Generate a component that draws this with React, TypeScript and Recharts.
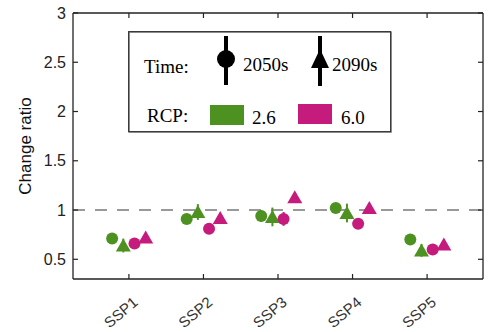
import { ScatterChart, Scatter, XAxis, YAxis, ReferenceLine, ErrorBar, Legend } from "recharts";

const categories = ["SSP1", "SSP2", "SSP3", "SSP4", "SSP5"];
const yTicks = [0.5, 1, 1.5, 2, 2.5, 3];

// RCP 2.6 (green) and RCP 6.0 (magenta), 2050s circles / 2090s triangles
const rcp26_2050 = [0.71, 0.91, 0.94, 1.02, 0.7];
const rcp26_2090 = [0.64, 0.98, 0.93, 0.97, 0.59];
const rcp60_2050 = [0.66, 0.81, 0.91, 0.86, 0.6];
const rcp60_2090 = [0.72, 0.92, 1.13, 1.02, 0.65];

const rcp26_2050Err = [0, 0.04, 0.06, 0.04, 0];
const rcp26_2090Err = [0.07, 0.08, 0.095, 0.095, 0.065];
const rcp60_2050Err = [0, 0, 0.07, 0, 0];
const rcp60_2090Err = [0, 0, 0, 0, 0];

const GREEN = "#4d9221";
const MAGENTA = "#c51b7d";
const AXIS = "#222";
const sans = "'Liberation Sans', Arial, sans-serif";
const serif = "'Liberation Serif', 'Times New Roman', serif";

const toPoints = (vals: number[], errs: number[], offset: number) =>
  vals.map((v, i) => ({ x: i + 1 + offset, y: v, err: errs[i] }));

const g50 = toPoints(rcp26_2050, rcp26_2050Err, -0.225);
const g90 = toPoints(rcp26_2090, rcp26_2090Err, -0.075);
const m50 = toPoints(rcp60_2050, rcp60_2050Err, 0.075);
const m90 = toPoints(rcp60_2090, rcp60_2090Err, 0.225);

const Dot = (color: string) => (p: any) => <circle cx={p.cx} cy={p.cy} r={6} fill={color} />;
const Tri = (color: string) => (p: any) => (
  <polygon points={`${p.cx - 7.5},${p.cy + 6} ${p.cx + 7.5},${p.cy + 6} ${p.cx},${p.cy - 7}`} fill={color} />
);

const LeftTick = (p: any) => (
  <g>
    <line x1={p.x} x2={p.x + 5} y1={p.y} y2={p.y} stroke={AXIS} strokeWidth={1.2} />
    <text x={p.x - 7} y={p.y} dy={5.5} textAnchor="end" fontSize={16} fill={AXIS} style={{ fontFamily: sans }}>
      {p.payload.value}
    </text>
  </g>
);
const RightTick = (p: any) => <line x1={p.x - 5} x2={p.x} y1={p.y} y2={p.y} stroke={AXIS} strokeWidth={1.2} />;
const TopTick = (p: any) => <line x1={p.x} x2={p.x} y1={p.y} y2={p.y + 5} stroke={AXIS} strokeWidth={1.2} />;
const BottomTick = (p: any) => (
  <g>
    <line x1={p.x} x2={p.x} y1={p.y} y2={p.y - 5} stroke={AXIS} strokeWidth={1.2} />
    <text
      x={0}
      y={0}
      transform={`translate(${p.x + 10},${p.y + 25}) rotate(-40)`}
      textAnchor="end"
      fontSize={15}
      fill="#333"
      style={{ fontFamily: sans }}
    >
      {categories[p.payload.value - 1]}
    </text>
  </g>
);

const YLabel = (p: any) => {
  const vb = p.viewBox;
  const cx = vb.x + 31;
  const cy = vb.y + vb.height / 2;
  return (
    <text x={cx} y={cy} transform={`rotate(-90,${cx},${cy})`} textAnchor="middle" fontSize={17} fill="#111" style={{ fontFamily: sans }}>
      Change ratio
    </text>
  );
};

const LegendBox = () => (
  <svg width={265} height={103} style={{ display: "block", fontFamily: serif }}>
    <rect x={1.5} y={1.5} width={262} height={100} fill="#fff" stroke="#bbb" strokeWidth={1} />
    <rect x={0.7} y={0.7} width={262} height={100} fill="none" stroke="#333" strokeWidth={1.3} />
    <text x={16} y={42} fontSize={19} fill="#000">Time:</text>
    <line x1={98} x2={98} y1={5} y2={54} stroke="#000" strokeWidth={4} />
    <circle cx={98} cy={28} r={9} fill="#000" />
    <text x={115} y={40} fontSize={19} fill="#000">2050s</text>
    <line x1={192} x2={192} y1={5} y2={55} stroke="#000" strokeWidth={4} />
    <polygon points="183,37 201,37 192,18" fill="#000" />
    <text x={204} y={40} fontSize={19} fill="#000">2090s</text>
    <text x={19} y={91} fontSize={19} fill="#000">RCP:</text>
    <rect x={82} y={74} width={34} height={20} fill={GREEN} />
    <text x={124} y={93} fontSize={19} fill="#000">2.6</text>
    <rect x={170} y={73} width={34} height={20} fill={MAGENTA} />
    <text x={213} y={93} fontSize={19} fill="#000">6.0</text>
  </svg>
);

export default function App() {
  return (
    <div style={{ position: "absolute", left: 0, top: 0, background: "#fff" }}>
      <ScatterChart width={491} height={332} margin={{ top: 0, right: 0, bottom: 0, left: 0 }}>
        <XAxis
          type="number"
          dataKey="x"
          domain={[0.25, 5.75]}
          ticks={[1, 2, 3, 4, 5]}
          allowDataOverflow
          height={53}
          tickSize={0}
          tickMargin={0}
          tickLine={false}
          axisLine={{ stroke: AXIS, strokeWidth: 1.3 }}
          tick={BottomTick}
        />
        <XAxis
          xAxisId="top"
          orientation="top"
          type="number"
          dataKey="x"
          domain={[0.25, 5.75]}
          ticks={[1, 2, 3, 4, 5]}
          allowDataOverflow
          height={13}
          tickSize={0}
          tickMargin={0}
          tickLine={false}
          axisLine={{ stroke: AXIS, strokeWidth: 1.3 }}
          tick={TopTick}
        />
        <YAxis
          type="number"
          dataKey="y"
          domain={[0.3, 3]}
          ticks={yTicks}
          allowDataOverflow
          width={73}
          tickSize={0}
          tickMargin={0}
          tickLine={false}
          axisLine={{ stroke: AXIS, strokeWidth: 1.3 }}
          tick={LeftTick}
          label={{ content: YLabel }}
        />
        <YAxis
          yAxisId="right"
          orientation="right"
          type="number"
          dataKey="y"
          domain={[0.3, 3]}
          ticks={yTicks}
          allowDataOverflow
          width={8}
          tickSize={0}
          tickMargin={0}
          tickLine={false}
          axisLine={{ stroke: AXIS, strokeWidth: 1.3 }}
          tick={RightTick}
        />
        <ReferenceLine y={1} stroke="#999" strokeWidth={2} strokeDasharray="12 10" />
        <Scatter data={g50} fill={GREEN} shape={Dot(GREEN)} isAnimationActive={false}>
          <ErrorBar dataKey="err" direction="y" width={0} stroke={GREEN} strokeWidth={2} />
        </Scatter>
        <Scatter data={g90} fill={GREEN} shape={Tri(GREEN)} isAnimationActive={false}>
          <ErrorBar dataKey="err" direction="y" width={0} stroke={GREEN} strokeWidth={2} />
        </Scatter>
        <Scatter data={m50} fill={MAGENTA} shape={Dot(MAGENTA)} isAnimationActive={false}>
          <ErrorBar dataKey="err" direction="y" width={0} stroke={MAGENTA} strokeWidth={2} />
        </Scatter>
        <Scatter data={m90} fill={MAGENTA} shape={Tri(MAGENTA)} isAnimationActive={false}>
          <ErrorBar dataKey="err" direction="y" width={0} stroke={MAGENTA} strokeWidth={2} />
        </Scatter>
        <Legend
          layout="vertical"
          align="center"
          verticalAlign="middle"
          content={LegendBox}
          wrapperStyle={{ left: 128, top: 31, width: 265, height: 103 }}
        />
      </ScatterChart>
    </div>
  );
}
